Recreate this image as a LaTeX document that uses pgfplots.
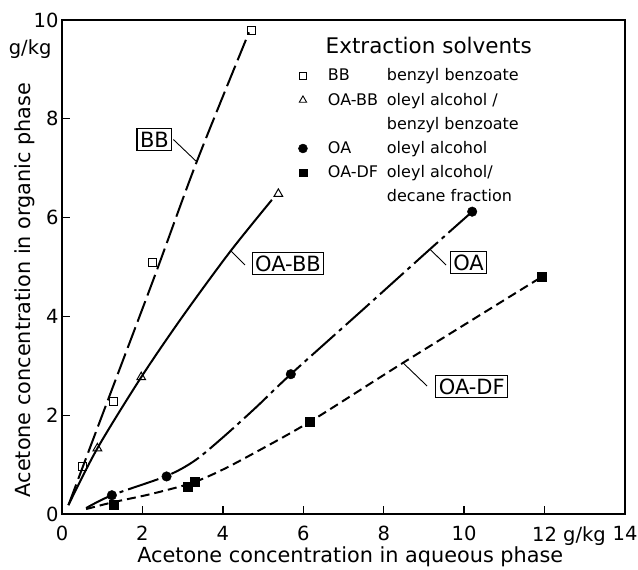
\documentclass[border=0pt]{standalone}
\usepackage{pgfplots}
\pgfplotsset{compat=1.18}
\usepackage{fontspec}
\setmainfont{DejaVu Sans}
\begin{document}
\begin{tikzpicture}
\begin{axis}[
  scale only axis, width=563bp, height=494bp,
  xmin=0, xmax=14, ymin=0, ymax=10,
  clip=false,
  axis line style={line width=1.5bp},
  xtick={0,2,...,14}, ytick={0,2,...,10},
  xticklabels={0,2,4,6,8,10,12\rlap{ g/kg},14},
  tick pos=left,
  tick align=inside, major tick length=8.5bp,
  major tick style={line width=1.3bp, black},
  tick label style={font=\fontsize{19.5bp}{22bp}\selectfont},
  xticklabel style={yshift=-9bp},
  /pgf/number format/assume math mode=true,
  xlabel={Acetone concentration in aqueous phase},
  ylabel={Acetone concentration in organic phase},
  label style={font=\fontsize{20.8bp}{24bp}\selectfont},
  x label style={at={(axis description cs:0.512,-0.0972)}, anchor=base},
  y label style={at={(axis description cs:-0.0568,0.4535)}, anchor=base},
  legend image code/.code={\draw[#1] plot coordinates {(0bp,5bp)};},
  legend style={draw=none, fill=none, inner sep=0pt, outer sep=0pt,
    at={(axis cs:5.88,9.01)}, anchor=north west,
    font=\fontsize{16bp}{18bp}\selectfont,
    nodes={inner sep=0pt, text height=12bp, text depth=4bp},
    cells={anchor=base west},
    row sep=8.2bp, column sep=20.5bp},
]
% legend
\addlegendimage{black, mark=square, mark size=3.6bp, mark options={line width=0.9bp, fill=white}}
\addlegendentry{\makebox[59bp][l]{BB}benzyl benzoate}
\addlegendimage{black, mark=triangle, mark size=4.2bp, mark options={line width=0.9bp, fill=white}}
\addlegendentry{\makebox[59bp][l]{OA-BB}oleyl alcohol /}
\addlegendimage{empty legend}
\addlegendentry{\hspace*{59bp}benzyl benzoate}
\addlegendimage{black, mark=*, mark size=4.5bp}
\addlegendentry{\makebox[59bp][l]{OA}oleyl alcohol}
\addlegendimage{black, mark=square*, mark size=3.9bp}
\addlegendentry{\makebox[59bp][l]{OA-DF}oleyl alcohol/}
\addlegendimage{empty legend}
\addlegendentry{\hspace*{59bp}decane fraction}

% curves
\addplot[forget plot, black, line width=2bp, smooth, dash pattern=on 22bp off 6bp]
  coordinates {(0.16,0.18)(1.0,2.0)(2.27,4.74)(3.35,7.13)(4.65,9.75)};
\addplot[forget plot, black, line width=2bp, smooth]
  coordinates {(0.16,0.18)(0.88,1.33)(1.97,2.77)(3.0,4.0)(4.18,5.31)(5.22,6.36)};
\addplot[forget plot, black, line width=2bp, smooth, dash pattern=on 32bp off 5bp on 4bp off 5bp]
  coordinates {(0.6,0.12)(1.24,0.38)(2.6,0.77)(3.3,1.08)(4.0,1.55)(4.84,2.17)(5.69,2.83)(7.5,4.15)(9.15,5.36)(10.2,6.12)};
\addplot[forget plot, black, line width=2bp, smooth, dash pattern=on 9bp off 5bp]
  coordinates {(0.6,0.1)(1.28,0.24)(2.19,0.40)(3.2,0.62)(3.9,0.86)(4.68,1.19)(6.17,1.87)(8.48,3.06)(11.93,4.8)};

% data points
\addplot[forget plot, only marks, mark=square, mark size=4bp, mark options={black, line width=1bp, fill=white}]
  coordinates {(0.51,0.96)(1.28,2.27)(2.26,5.09)(4.72,9.78)};
\addplot[forget plot, only marks, mark=triangle, mark size=5bp, mark options={black, line width=1bp, fill=white}]
  coordinates {(0.88,1.33)(1.97,2.77)(5.38,6.48)};
\addplot[forget plot, only marks, mark=*, mark size=4.8bp, mark options={black}]
  coordinates {(1.24,0.38)(2.6,0.76)(5.69,2.83)(10.2,6.12)};
\addplot[forget plot, only marks, mark=square*, mark size=4.5bp, mark options={black}]
  coordinates {(1.28,0.18)(3.12,0.55)(3.29,0.65)(6.17,1.86)(11.93,4.8)};

% leader lines
\draw[line width=0.9bp] (axis cs:2.77,7.58) -- (axis cs:3.35,7.13);
\draw[line width=0.9bp] (axis cs:4.55,5.04) -- (axis cs:4.18,5.34);
\draw[line width=0.9bp] (axis cs:9.55,5.04) -- (axis cs:9.15,5.36);
\draw[line width=0.9bp] (axis cs:9.08,2.59) -- (axis cs:8.48,3.06);

% boxed labels
\tikzset{lab/.style={draw, line width=1.2bp, fill=white, inner sep=3bp, font=\fontsize{21bp}{24bp}\selectfont}}
\node[lab] at (axis cs:2.3,7.58) {BB};
\node[lab] at (axis cs:5.62,5.07) {OA-BB};
\node[lab] at (axis cs:10.11,5.09) {OA};
\node[lab] at (axis cs:10.19,2.58) {OA-DF};

% legend title and unit
\node[anchor=base west, font=\fontsize{21.5bp}{24bp}\selectfont] at (axis cs:6.47,9.33) {Extraction solvents};
\node[anchor=base east, font=\fontsize{19.5bp}{22bp}\selectfont] at (axis cs:0,10) [xshift=-7bp, yshift=-35bp] {g/kg};

\coordinate (SW) at (rel axis cs:0,0);
\coordinate (NE) at (rel axis cs:1,1);
\end{axis}
\pgfresetboundingbox
\path ([shift={(-62bp,-56bp)}]SW) rectangle ([shift={(13bp,20bp)}]NE);
\end{tikzpicture}
\end{document}
